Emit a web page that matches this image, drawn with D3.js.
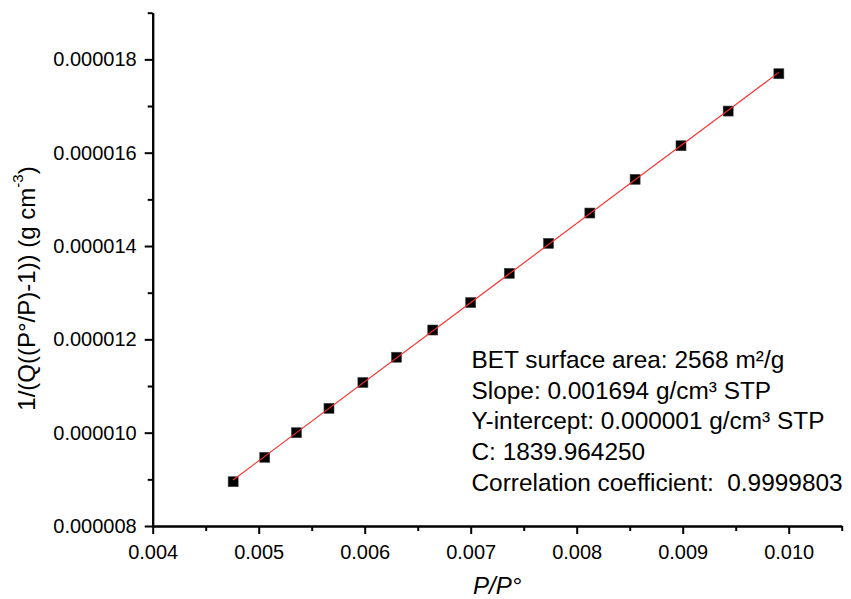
<!DOCTYPE html>
<html>
<head>
<meta charset="utf-8">
<script src="https://cdn.jsdelivr.net/npm/d3@7"></script>
<style>
  html, body { margin: 0; padding: 0; background: #fff; }
  svg { display: block; font-family: "Liberation Sans", Arial, sans-serif; }
</style>
</head>
<body>
<div id="chart"></div>
<script>
// relative pressure P/P°
const relPressure = [0.004759, 0.005057, 0.005356, 0.005663, 0.005983, 0.006300, 0.006642, 0.007000,
                     0.007364, 0.007734, 0.008124, 0.008551, 0.008984, 0.009429, 0.009907];
// 1/(Q((P°/P)-1))
const betValue = [8.949e-6, 9.472e-6, 9.999e-6, 10.522e-6, 11.075e-6, 11.617e-6, 12.200e-6, 12.789e-6,
                  13.415e-6, 14.057e-6, 14.707e-6, 15.429e-6, 16.149e-6, 16.892e-6, 17.692e-6];

const xTicks = [0.004, 0.005, 0.006, 0.007, 0.008, 0.009, 0.010];
const xMinor = [0.0045, 0.0055, 0.0065, 0.0075, 0.0085, 0.0095, 0.0105];
const yTicks = [0.000008, 0.000010, 0.000012, 0.000014, 0.000016, 0.000018];
const yMinor = [0.000009, 0.000011, 0.000013, 0.000015, 0.000017, 0.000019];

const notes = [
  'BET surface area: 2568 m\u00b2/g',
  'Slope: 0.001694 g/cm\u00b3 STP',
  'Y-intercept: 0.000001 g/cm\u00b3 STP',
  'C: 1839.964250',
  'Correlation coefficient:\u00a0 0.9999803'
];

const W = 851, H = 599;
const mLeft = 152.7, mRight = 841.7, mTop = 12.7, mBottom = 526;

const svg = d3.select('#chart').append('svg')
  .attr('width', W).attr('height', H)
  .attr('viewBox', `0 0 ${W} ${H}`);

const x = d3.scaleLinear().domain([0.004, 0.0105]).range([mLeft, mRight]);
const y = d3.scaleLinear().domain([0.000008, 0.000019]).range([mBottom, mTop]);

function styleAxis(g) {
  g.select('.domain').attr('stroke', '#000').attr('stroke-width', 2);
  g.selectAll('line').attr('stroke', '#000').attr('stroke-width', 2);
  g.selectAll('text').attr('fill', '#000').attr('font-size', '20px')
    .attr('font-family', '"Liberation Sans", Arial, sans-serif');
}

// minor ticks
svg.append('g')
  .attr('transform', `translate(0,${mBottom})`)
  .call(d3.axisBottom(x).tickValues(xMinor).tickSize(5).tickFormat('').tickSizeOuter(0))
  .call(styleAxis);
svg.append('g')
  .attr('transform', `translate(${mLeft},0)`)
  .call(d3.axisLeft(y).tickValues(yMinor).tickSize(5).tickFormat('').tickSizeOuter(0))
  .call(styleAxis);

// major ticks
svg.append('g')
  .attr('transform', `translate(0,${mBottom})`)
  .call(d3.axisBottom(x).tickValues(xTicks).tickSize(8).tickPadding(10.5)
    .tickFormat(d3.format('.3f')).tickSizeOuter(0))
  .call(styleAxis);
svg.append('g')
  .attr('transform', `translate(${mLeft},0)`)
  .call(d3.axisLeft(y).tickValues(yTicks).tickSize(8).tickPadding(8)
    .tickFormat(d3.format('.6f')).tickSizeOuter(0))
  .call(styleAxis);

// least squares fit through the points
const mx = d3.mean(relPressure), my = d3.mean(betValue);
const slope = d3.sum(relPressure, (v, i) => (v - mx) * (betValue[i] - my)) /
              d3.sum(relPressure, v => (v - mx) * (v - mx));
const icpt = my - slope * mx;
const xr = d3.extent(relPressure);

const pts = relPressure.map((v, i) => ({ x: v, y: betValue[i] }));
const sq = 10;
svg.append('g').selectAll('rect')
  .data(pts)
  .join('rect')
  .attr('x', d => x(d.x) - sq / 2)
  .attr('y', d => y(d.y) - sq / 2)
  .attr('width', sq).attr('height', sq)
  .attr('fill', '#000')
  .attr('stroke', '#444').attr('stroke-width', 0.6);

svg.append('path')
  .datum(xr)
  .attr('d', d3.line().x(d => x(d)).y(d => y(slope * d + icpt)))
  .attr('fill', 'none')
  .attr('stroke', '#ff2a2a')
  .attr('stroke-width', 1.1);

// annotation
svg.append('g').selectAll('text')
  .data(notes)
  .join('text')
  .attr('x', 471.5)
  .attr('y', (d, i) => 368 + i * 30.7)
  .attr('font-size', '24.4px')
  .attr('fill', '#000')
  .text(d => d);

// axis titles
svg.append('text')
  .attr('x', (mLeft + mRight) / 2).attr('y', 594)
  .attr('text-anchor', 'middle')
  .attr('font-size', '24px').attr('font-style', 'italic')
  .text('P/P\u00b0');

const yt = svg.append('text')
  .attr('transform', `translate(35,288.5) rotate(-90)`)
  .attr('text-anchor', 'middle')
  .attr('font-size', '24px');
yt.append('tspan').text('1/(Q((P\u00b0/P)-1)) (g cm');
yt.append('tspan').attr('font-size', '15px').attr('dy', -12).text('-3');
yt.append('tspan').attr('dy', 12).text(')');
</script>
</body>
</html>
